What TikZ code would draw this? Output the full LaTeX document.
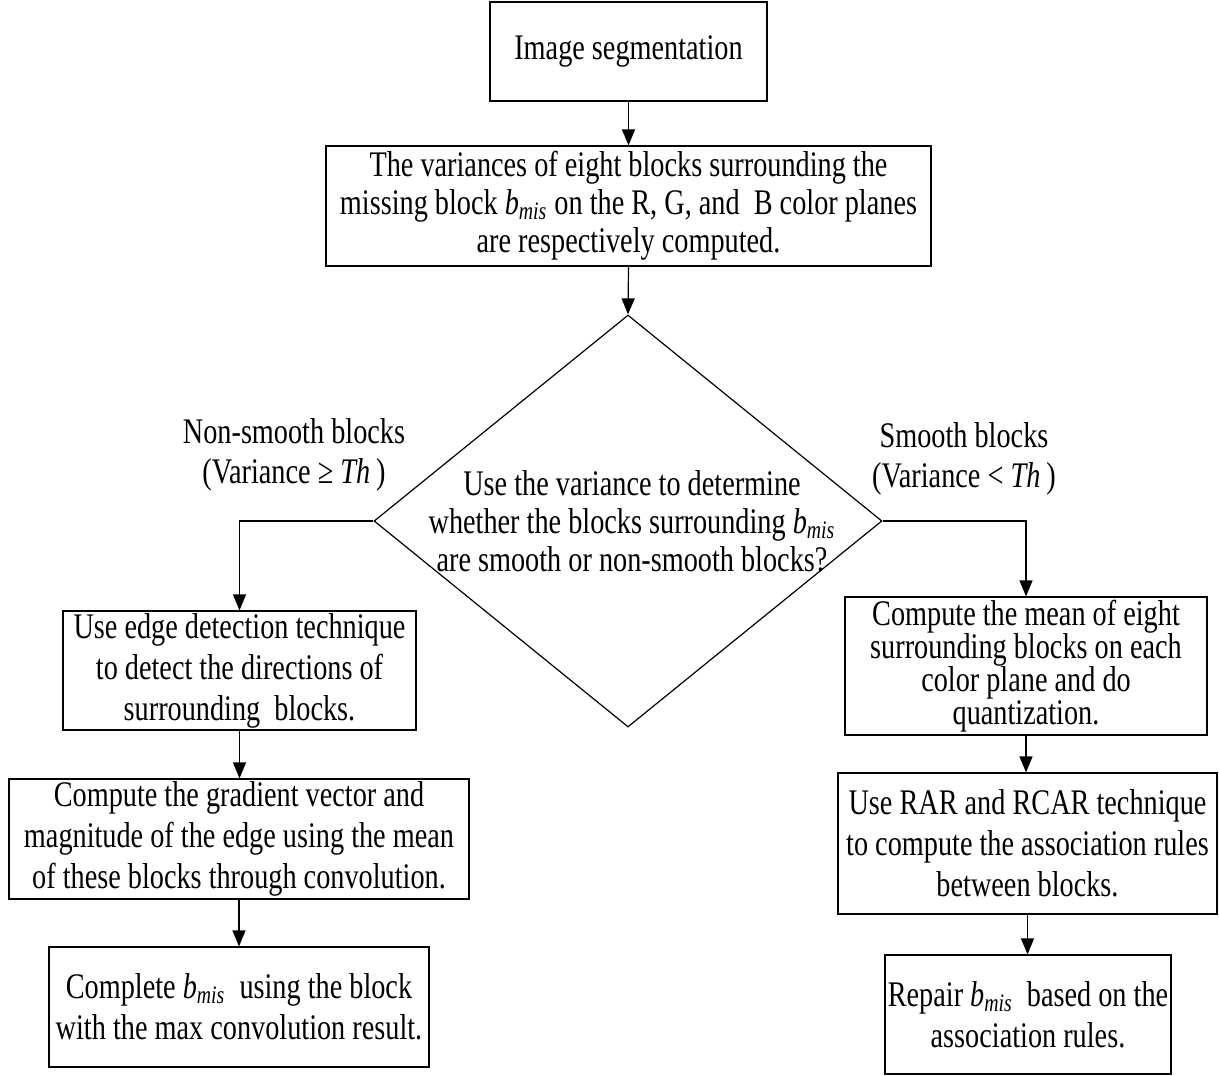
\documentclass[tikz,border=0pt]{standalone}
\usepackage{fontspec}
\setmainfont{Liberation Serif}[FakeStretch=0.785]
\usepackage{tikz}
\usetikzlibrary{arrows.meta,positioning,calc,shapes.geometric}

\newcommand{\bmis}{\textit{b}\textsubscript{\textit{mis}}}
\tikzset{
    stepbox/.style={draw,line width=0.6pt,align=center,inner sep=0pt,
        font=\fontsize{18}{20.5}\selectfont},
    decision/.style={draw,diamond,line width=0.6pt,inner sep=0pt},
    flow/.style={-{Triangle[length=8pt,width=6.5pt]},line width=0.6pt},
    branch/.style={align=center,font=\fontsize{18}{20}\selectfont}
}

\begin{document}
\begin{tikzpicture}[x=0.5pt,y=-0.5pt]
        \useasboundingbox (0,0) rectangle (1219,1075);

        %%%% Top =======================================
        \node[stepbox,minimum width=138.5pt,minimum height=49.5pt] (seg) at (628.5, 51.5) {Image segmentation};
        \node[stepbox,font=\fontsize{18}{19}\selectfont,minimum width=302.5pt,minimum height=60pt] (var) at (628.5, 206)
            {The variances of eight blocks surrounding the\\
             missing block \bmis{} on the R, G, and~ B color planes\\
             are respectively computed.};

        % Decision
        \node[decision,minimum width=254pt,minimum height=206pt] (dec) at (628, 521) {};
        \node[stepbox,draw=none,font=\fontsize{18}{19}\selectfont] (dectext) at (632, 521)
            {Use the variance to determine\\
             whether the blocks surrounding \bmis\\
             are smooth or non-smooth blocks?};

        % Branch labels
        \node[branch] (nonsmooth) at (294, 455) {Non-smooth blocks\\(Variance ≥ \textit{Th}\,)};
        \node[branch] (smooth) at (964, 459) {Smooth blocks\\(Variance < \textit{Th}\,)};

        %%%% Left ========================================
        \node[stepbox,minimum width=176.5pt,minimum height=59.5pt] (edge) at (239.5, 670.5)
            {Use edge detection technique\\
             to detect the directions of\\
             surrounding~ blocks.};
        \node[stepbox,minimum width=230pt,minimum height=60pt] (grad) at (239, 839)
            {Compute the gradient vector and\\
             magnitude of the edge using the mean\\
             of these blocks through convolution.};
        \node[stepbox,minimum width=190pt,minimum height=60pt] (compl) at (239, 1007)
            {Complete \bmis{}~ using the block\\
             with the max convolution result.};

        %%%% Right =======================================
        \node[stepbox,font=\fontsize{18}{16.5}\selectfont,minimum width=181pt,minimum height=69pt] (mean) at (1026, 666)
            {Compute the mean of eight\\
             surrounding blocks on each\\
             color plane and do\\
             quantization.};
        \node[stepbox,minimum width=189.5pt,minimum height=70.5pt] (rar) at (1027.5, 843.5)
            {Use RAR and RCAR technique\\
             to compute the association rules\\
             between blocks.};
        \node[stepbox,minimum width=143pt,minimum height=59.5pt] (repair) at (1028, 1014.5)
            {Repair \bmis{}~ based on the\\
             association rules.};

        % Arcs
        \draw[flow] (seg) -- (var);
        \draw[flow] (var.south) -- (dec.north);
        \draw[flow] (dec.west) -| (edge.north);
        \draw[flow] (dec.east) -| (mean.north);
        \draw[flow] (edge.south) -- (edge.south |- grad.north);
        \draw[flow] (grad.south) -- (grad.south |- compl.north);
        \draw[flow] (mean.south) -- (mean.south |- rar.north);
        \draw[flow] (rar.south) -- (rar.south |- repair.north);
\end{tikzpicture}
\end{document}
